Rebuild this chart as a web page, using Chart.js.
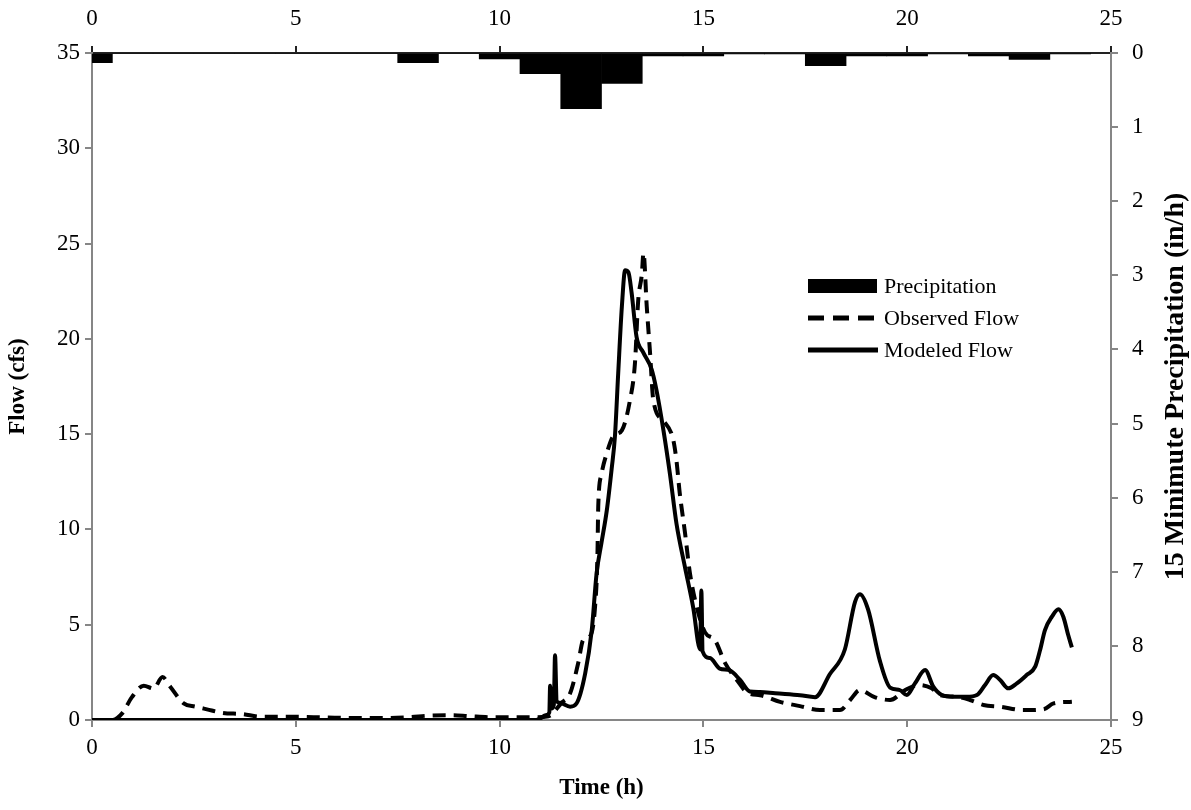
<!DOCTYPE html>
<html><head><meta charset="utf-8">
<script src="https://cdn.jsdelivr.net/npm/chart.js@4.4.1/dist/chart.umd.min.js"></script>
<style>html,body{margin:0;padding:0;background:#fff}</style>
</head><body><canvas id="c" width="1191" height="810"></canvas>
<script>
// ---- data ----
const precipHours  = [0,1,2,3,4,5,6,7,8,9,10,11,12,13,14,15,16,17,18,19,20,21,22,23,24];
const precipValues = [0.13,0,0,0,0,0,0,0,0.13,0,0.08,0.28,0.75,0.41,0.04,0.04,0.01,0.01,0.17,0.04,0.04,0.01,0.04,0.085,0.01];

const obsTime = [0,0.5,0.74,0.98,1.27,1.51,1.73,1.92,2.25,2.54,2.82,3.19,3.68,4.17,4.8,5.65,6.46,7.28,7.8,8.26,8.84,9.25,9.9,10.8,11.2,11.52,11.73,11.93,12.05,12.22,12.34,12.4,12.42,12.5,12.63,12.79,13.0,13.2,13.32,13.4,13.49,13.53,13.61,13.69,13.77,14.02,14.26,14.34,14.42,14.55,14.67,14.84,15.04,15.28,15.53,15.82,16.1,16.39,16.88,17.37,17.86,18.35,18.6,18.84,19.2,19.58,19.95,20.3,20.6,20.8,21.21,21.54,21.87,22.28,22.85,23.34,23.59,24.04];
const obsFlow = [0,0,0.35,1.2,1.8,1.65,2.25,1.75,0.87,0.7,0.56,0.38,0.31,0.17,0.17,0.14,0.1,0.1,0.15,0.23,0.25,0.2,0.14,0.14,0.2,0.9,1.4,3.0,4.2,4.4,5.9,8.6,11.2,12.9,14.0,14.9,15.2,16.8,18.7,22.0,23.4,24.5,21.7,19.3,16.8,15.7,14.7,13.6,11.9,9.8,7.7,5.9,4.6,4.2,3.0,2.1,1.4,1.3,0.95,0.73,0.52,0.52,1.05,1.57,1.2,1.05,1.57,1.84,1.66,1.31,1.22,1.05,0.79,0.7,0.52,0.56,0.87,0.96];

const modTime = [0,10.9,11.15,11.22,11.24,11.27,11.33,11.36,11.4,11.48,11.73,11.89,12.1,12.26,12.38,12.5,12.63,12.75,12.83,12.91,13.0,13.08,13.16,13.24,13.36,13.52,13.73,13.85,14.02,14.18,14.34,14.55,14.75,14.92,14.95,14.98,15.16,15.4,15.65,15.9,16.14,16.39,16.76,17.37,17.74,18.1,18.47,18.72,18.84,19.04,19.33,19.58,19.82,19.99,20.19,20.44,20.64,20.85,21.13,21.46,21.71,21.91,22.11,22.28,22.48,22.69,22.93,23.14,23.26,23.38,23.55,23.71,23.83,23.95,24.04];
const modFlow = [0,0,0.26,0.4,1.8,0.6,0.8,3.4,1.0,0.9,0.7,0.88,2.45,4.7,7.7,9.3,11.0,13.2,14.9,18.2,21.7,23.6,23.5,22.4,20.1,19.3,18.4,17.3,15.2,12.9,10.3,8.0,5.9,3.7,6.8,3.6,3.25,2.7,2.6,2.1,1.5,1.47,1.4,1.3,1.2,2.4,3.7,6.2,6.6,5.8,3.1,1.7,1.57,1.31,1.92,2.62,1.75,1.31,1.22,1.22,1.31,1.84,2.36,2.1,1.66,1.92,2.36,2.8,3.67,4.72,5.42,5.81,5.42,4.46,3.81];

const seriesLabels = ['Precipitation','Observed Flow','Modeled Flow'];
const xTitle = 'Time (h)';
const yTitle = 'Flow (cfs)';
const y2Title = '15 Minimute Precipitation (in/h)';

// ---- styling ----
const FAMILY = "'Liberation Serif','Times New Roman',serif";
const GRAY = '#868686';
const TICK_FONT = {family: FAMILY, size: 23};
const TITLE_FONT = {family: FAMILY, size: 23, weight: 'bold'};
const DASH = [13, 8];

function axisCommon(extra) {
  return Object.assign({
    type: 'linear',
    offset: false,
    grid: {offset: false, drawOnChartArea: false, drawTicks: true, tickLength: 7, color: GRAY, lineWidth: 2},
    border: {color: GRAY, width: 2},
  }, extra);
}

const legendPlugin = {
  id: 'customLegend',
  afterDraw(chart) {
    const ctx = chart.ctx;
    const ds = chart.data.datasets;
    const x0 = 808, x1 = 877, tx = 884;
    const rows = [286, 318, 350];
    ctx.save();
    ctx.font = `22px ${FAMILY}`;
    ctx.textBaseline = 'middle';
    ctx.fillStyle = ds[0].backgroundColor;
    ctx.fillRect(x0, rows[0] - 7, x1 - x0, 14);
    ctx.strokeStyle = ds[1].borderColor;
    ctx.lineWidth = 5;
    ctx.setLineDash([16, 9]);
    ctx.beginPath(); ctx.moveTo(x0, rows[1]); ctx.lineTo(x1, rows[1]); ctx.stroke();
    ctx.setLineDash([]);
    ctx.beginPath(); ctx.moveTo(x0, rows[2]); ctx.lineTo(x1 + 1, rows[2]); ctx.stroke();
    ctx.fillStyle = '#000';
    ds.forEach((d, i) => ctx.fillText(d.label, tx, rows[i] + 1));
    ctx.restore();
  }
};

const rightTitlePlugin = {
  id: 'rightTitle',
  afterDraw(chart) {
    const ctx = chart.ctx;
    const a = chart.chartArea;
    ctx.save();
    ctx.translate(1176, (a.top + a.bottom) / 2);
    ctx.rotate(-Math.PI / 2);
    ctx.font = `bold 28px ${FAMILY}`;
    ctx.fillStyle = '#000';
    ctx.textAlign = 'center';
    ctx.textBaseline = 'middle';
    ctx.fillText(y2Title, 0, 0);
    ctx.restore();
  }
};

new Chart(document.getElementById('c'), {
  type: 'line',
  data: {
    datasets: [
      {
        type: 'bar', label: seriesLabels[0],
        data: precipHours.map((h, i) => ({x: h, y: precipValues[i]})),
        xAxisID: 'x', yAxisID: 'y2',
        backgroundColor: '#000', borderWidth: 0,
        barPercentage: 1, categoryPercentage: 1, clip: 0, order: 3
      },
      {
        type: 'line', label: seriesLabels[1],
        data: obsTime.map((t, i) => ({x: t, y: obsFlow[i]})),
        xAxisID: 'x', yAxisID: 'y',
        borderColor: '#000', borderWidth: 4, borderDash: DASH,
        pointRadius: 0, fill: false, cubicInterpolationMode: 'monotone', order: 2
      },
      {
        type: 'line', label: seriesLabels[2],
        data: modTime.map((t, i) => ({x: t, y: modFlow[i]})),
        xAxisID: 'x', yAxisID: 'y',
        borderColor: '#000', borderWidth: 4,
        pointRadius: 0, fill: false, cubicInterpolationMode: 'monotone', order: 1
      }
    ]
  },
  options: {
    responsive: false, animation: false, devicePixelRatio: 1,
    layout: {padding: 0},
    plugins: {legend: {display: false}, tooltip: {enabled: false}},
    scales: {
      x: axisCommon({
        position: 'bottom', min: 0, max: 25,
        ticks: {stepSize: 5, font: TICK_FONT, color: '#000', padding: 7, maxRotation: 0},
        title: {display: true, text: xTitle, font: TITLE_FONT, color: '#000', padding: {top: 0, bottom: 8}},
        afterFit(s) { s.height = 90; }
      }),
      x2: axisCommon({
        position: 'top', min: 0, max: 25,
        grid: {offset: false, drawOnChartArea: false, drawTicks: true, tickLength: 7, color: '#222', lineWidth: 2},
        border: {color: '#222', width: 2},
        ticks: {stepSize: 5, font: TICK_FONT, color: '#000', padding: 13, maxRotation: 0},
        afterFit(s) { s.height = 53; }
      }),
      y: axisCommon({
        position: 'left', min: 0, max: 35,
        ticks: {stepSize: 5, font: TICK_FONT, color: '#000', padding: 5},
        title: {display: true, text: yTitle, font: TITLE_FONT, color: '#000', padding: {top: 4, bottom: 0}},
        afterFit(s) { s.width = 92; }
      }),
      y2: axisCommon({
        position: 'right', min: 0, max: 9, reverse: true,
        ticks: {stepSize: 1, font: TICK_FONT, color: '#000', padding: 14},
        afterFit(s) { s.width = 80; }
      })
    }
  },
  plugins: [legendPlugin, rightTitlePlugin]
});
</script>
</body></html>
